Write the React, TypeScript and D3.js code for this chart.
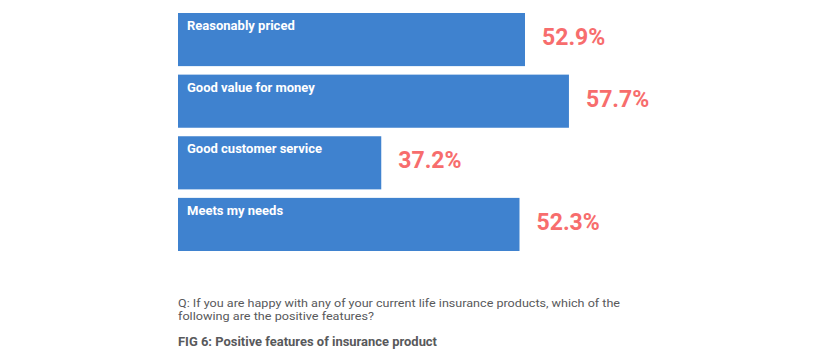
import React from "react";
import * as d3 from "d3";

const categories = ["Reasonably priced", "Good value for money", "Good customer service", "Meets my needs"];
const values = [52.9, 57.7, 37.2, 52.3];
const valueLabels = ["52.9%", "57.7%", "37.2%", "52.3%"];
const questionLines = [
  "Q: If you are happy with any of your current life insurance products, which of the",
  "following are the positive features?",
];
const questionWidths = [442, 196];
const figTitle = "FIG 6: Positive features of insurance product";

const W = 820;
const H = 363;

export default function App() {
  const x = d3.scaleLinear().domain([15, 60]).range([178, 590]);
  const y = d3
    .scaleBand<string>()
    .domain(categories)
    .range([13, 251])
    .paddingInner(0.138)
    .paddingOuter(0);

  return (
    <svg
      width={W}
      height={H}
      style={{ position: "absolute", left: 0, top: 0, background: "#fff" }}
    >
      {categories.map((c, i) => {
        const y0 = y(c) as number;
        const x1 = x(values[i]);
        return (
          <g key={c}>
            <rect x={x(15)} y={y0} width={x1 - x(15)} height={y.bandwidth()} fill="#3F82CF" />
            <text
              x={x(15) + 9}
              y={y0 + 17}
              fill="#fff"
              fontFamily="Roboto, sans-serif"
              fontWeight={700}
              fontSize={13}
            >
              {c}
            </text>
            <text
              x={x1 + 17}
              y={y0 + 32}
              fill="#F76D6D"
              fontFamily="Roboto, sans-serif"
              fontWeight={700}
              fontSize={23}
            >
              {valueLabels[i]}
            </text>
          </g>
        );
      })}
      {questionLines.map((l, i) => (
        <text
          key={i}
          x={178}
          y={307 + i * 13}
          fill="#58595B"
          fontFamily="Roboto, sans-serif"
          fontSize={11.5}
          textLength={questionWidths[i]}
          lengthAdjust="spacingAndGlyphs"
        >
          {l}
        </text>
      ))}
      <text
        x={178}
        y={346}
        fill="#58595B"
        fontFamily="Roboto, sans-serif"
        fontWeight={700}
        fontSize={12}
        textLength={259}
        lengthAdjust="spacingAndGlyphs"
      >
        {figTitle}
      </text>
    </svg>
  );
}
